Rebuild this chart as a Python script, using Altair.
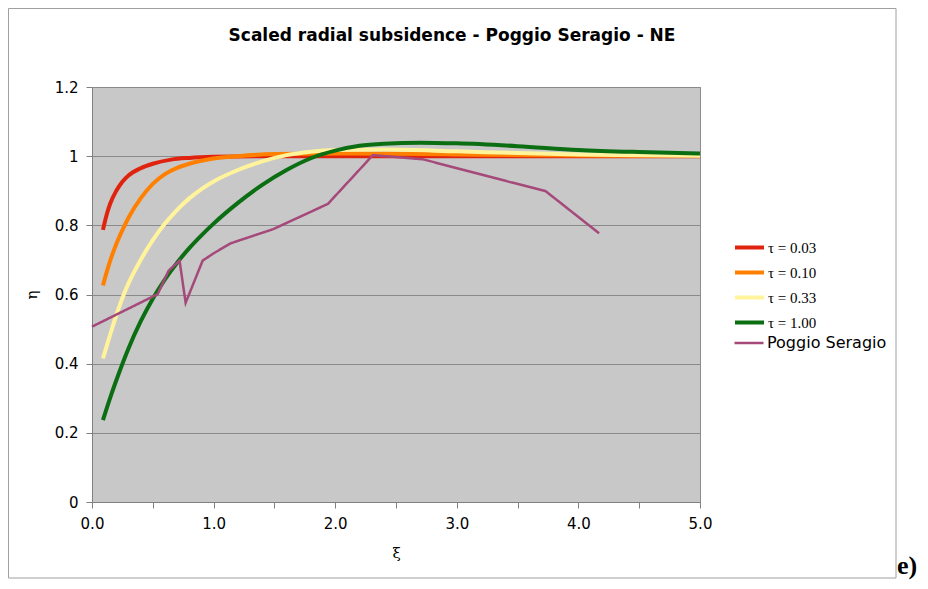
import altair as alt
import pandas as pd

# ---- data ----
tau_labels = ["τ = 0.03", "τ = 0.10", "τ = 0.33", "τ = 1.00"]
tau_colors = ["#e0230f", "#ff8000", "#fff39c", "#0b6e12"]

red_x = [0.09, 0.12, 0.15, 0.2, 0.25, 0.3, 0.4, 0.5, 0.65, 0.8, 1.0, 1.5, 2.0, 3.0, 4.0, 5.0]
red_y = [0.787, 0.83, 0.863, 0.9, 0.926, 0.944, 0.965, 0.978, 0.99, 0.995, 0.998, 1.0, 1.0, 1.0, 1.0, 1.0]

orange_x = [0.09, 0.12, 0.15, 0.2, 0.25, 0.3, 0.4, 0.5, 0.6, 0.7, 0.8, 1.0, 1.2, 1.5, 2.0, 2.5, 3.0, 4.0, 5.0]
orange_y = [0.626, 0.664, 0.698, 0.746, 0.786, 0.822, 0.878, 0.92, 0.948, 0.966, 0.978, 0.993, 1.0, 1.006, 1.008, 1.007, 1.005, 1.002, 1.001]

yellow_x = [0.09, 0.12, 0.15, 0.2, 0.25, 0.3, 0.4, 0.5, 0.6, 0.7, 0.8, 0.9, 1.0, 1.2, 1.4, 1.6, 1.8, 2.0, 2.4, 3.0, 3.5, 4.0, 4.5, 5.0]
yellow_y = [0.415, 0.45, 0.485, 0.54, 0.59, 0.632, 0.7, 0.757, 0.805, 0.845, 0.878, 0.905, 0.927, 0.96, 0.985, 1.003, 1.013, 1.018, 1.019, 1.014, 1.009, 1.005, 1.003, 1.001]

green_x = [0.09, 0.15, 0.2, 0.3, 0.4, 0.5, 0.6, 0.7, 0.8, 0.9, 1.0, 1.2, 1.4, 1.6, 1.8, 2.0, 2.2, 2.4, 2.7, 3.0, 3.5, 4.0, 4.5, 5.0]
green_y = [0.237, 0.302, 0.352, 0.444, 0.522, 0.588, 0.644, 0.692, 0.734, 0.771, 0.805, 0.865, 0.917, 0.96, 0.994, 1.016, 1.03, 1.036, 1.039, 1.037, 1.029, 1.018, 1.012, 1.008]

site_label = "Poggio Seragio"
site_color = "#a5497a"
site_x = [0.0, 0.54, 0.63, 0.72, 0.77, 0.91, 1.0, 1.14, 1.49, 1.94, 2.31, 2.72, 3.44, 3.73, 4.17]
site_y = [0.507, 0.601, 0.669, 0.698, 0.576, 0.698, 0.719, 0.748, 0.789, 0.862, 1.003, 0.991, 0.925, 0.899, 0.777]

y_ticks = [0, 0.2, 0.4, 0.6, 0.8, 1.0, 1.2]
x_ticks = [0, 0.5, 1.0, 1.5, 2.0, 2.5, 3.0, 3.5, 4.0, 4.5, 5.0]

title_text = "Scaled radial subsidence - Poggio Seragio - NE"
panel_tag = "e)"

# ---- tables ----
rows = []
for lab, xs, ys in zip(tau_labels, [red_x, orange_x, yellow_x, green_x],
                       [red_y, orange_y, yellow_y, green_y]):
    for i, (a, b) in enumerate(zip(xs, ys)):
        rows.append({"tau": lab, "xi": a, "eta": b, "i": i})
model_df = pd.DataFrame(rows)
site_df = pd.DataFrame({"site": site_label, "xi": site_x, "eta": site_y, "i": range(len(site_x))})

W, H = 608, 415
PL, PT = 84, 79

x_enc = alt.X("xi:Q", scale=alt.Scale(domain=[0, 5]),
              axis=alt.Axis(title="ξ", values=x_ticks,
                            labelExpr="datum.value % 1 == 0 ? format(datum.value, '.1f') : ''",
                            labelFlush=False, grid=False, tickSize=6, labelPadding=8,
                            titlePadding=14))
y_enc = alt.Y("eta:Q", scale=alt.Scale(domain=[0, 1.2]),
              axis=alt.Axis(title="η", values=y_ticks, format="~g", grid=True,
                            tickSize=6, labelPadding=8, titlePadding=15))

frame = alt.Chart(pd.DataFrame({"k": [0]})).mark_rect(
    filled=False, stroke="#a0a0a0", strokeWidth=1
).encode(x=alt.value(-PL + 0.5), x2=alt.value(804), y=alt.value(-PT + 0.5), y2=alt.value(491))

models = alt.Chart(model_df).mark_line(strokeWidth=4, interpolate="monotone").encode(
    x=x_enc, y=y_enc, order="i:Q",
    color=alt.Color("tau:N", scale=alt.Scale(domain=tau_labels, range=tau_colors),
                    legend=alt.Legend(title=None, orient="none", legendX=641, legendY=144,
                                      symbolType="stroke", symbolStrokeWidth=4, symbolSize=841,
                                      labelFont="Liberation Serif", labelFontSize=15,
                                      labelColor="#000000", rowPadding=-2.5, labelOffset=2,
                                      padding=0)),
)

site = alt.Chart(site_df).mark_line(strokeWidth=2.5, color=site_color).encode(
    x=x_enc, y=y_enc, order="i:Q",
    strokeDash=alt.StrokeDash("site:N", scale=alt.Scale(domain=[site_label], range=[[1, 0]]),
                              legend=alt.Legend(title=None, orient="none", legendX=641, legendY=240,
                                                symbolType="stroke", symbolStrokeWidth=2.5,
                                                symbolStrokeColor=site_color, symbolSize=841,
                                                labelFont="DejaVu Sans", labelFontSize=16,
                                                labelColor="#000000", labelOffset=2, padding=0)),
)

tag = alt.Chart(pd.DataFrame({"t": [panel_tag]})).mark_text(
    font="Liberation Serif", fontSize=26, fontWeight="bold", align="left",
    baseline="alphabetic", color="#000000"
).encode(x=alt.value(805), y=alt.value(487), text="t:N")

chart = alt.layer(frame, models, site, tag).properties(
    width=W, height=H,
    title=alt.TitleParams(title_text, anchor="middle", dx=56, offset=-37, fontSize=17,
                          font="DejaVu Sans", fontWeight="bold", color="#000000"),
    autosize=alt.AutoSizeParams(type="none"),
    padding={"left": PL, "top": PT, "right": 220, "bottom": 78},
    background="#ffffff",
).configure_view(
    fill="#c8c8c8", stroke="#8c8c8c", strokeWidth=1
).configure_axis(
    domainColor="#808080", tickColor="#808080", gridColor="#8a8a8a",
    labelFont="DejaVu Sans", labelFontSize=15, labelColor="#000000",
    titleFont="DejaVu Serif", titleFontSize=15, titleFontWeight="normal", titleColor="#000000",
)

chart.save("out.html", embed_options={"renderer": "svg", "actions": False})
